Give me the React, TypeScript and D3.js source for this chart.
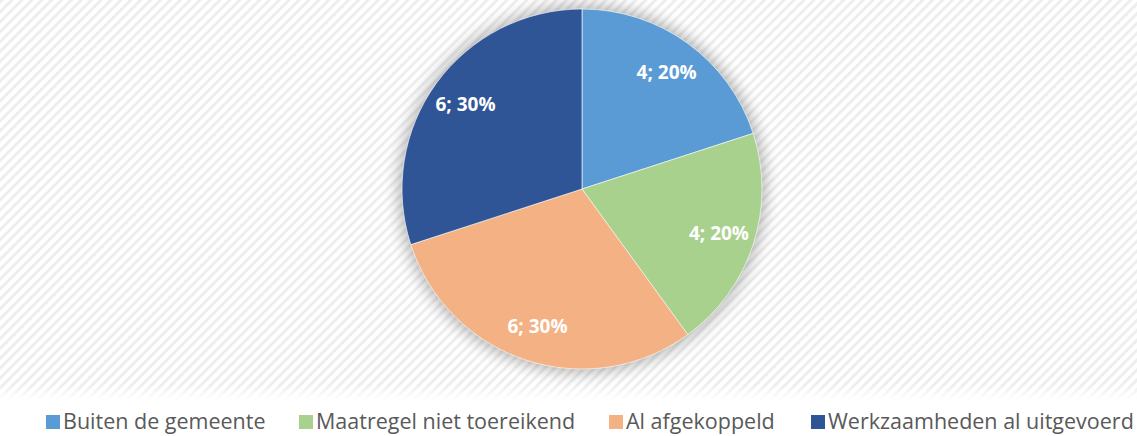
import React, { useEffect, useRef } from 'react';
import * as d3 from 'd3';

const categories = ['Buiten de gemeente', 'Maatregel niet toereikend', 'Al afgekoppeld', 'Werkzaamheden al uitgevoerd'];
const values = [4, 4, 6, 6];
const colors = ['#5B9BD5', '#A9D18E', '#F4B183', '#2F5597'];
const legendX = [46, 299, 609, 811];

export default function App() {
  const ref = useRef<SVGSVGElement>(null);

  useEffect(() => {
    const svg = d3.select(ref.current);
    svg.selectAll('*').remove();
    const width = 1137;
    const height = 436;
    const cx = 582;
    const cy = 189;
    const r = 180;

    const defs = svg.append('defs');
    const pat = defs
      .append('pattern')
      .attr('id', 'stripes')
      .attr('width', 7)
      .attr('height', 7)
      .attr('patternUnits', 'userSpaceOnUse')
      .attr('patternTransform', 'rotate(45)');
    pat.append('rect').attr('width', 7).attr('height', 7).attr('fill', '#ffffff');
    pat.append('rect').attr('width', 3).attr('height', 7).attr('fill', '#eeeeee');

    const fade = defs.append('linearGradient').attr('id', 'fade').attr('x1', 0).attr('y1', 0).attr('x2', 0).attr('y2', 1);
    fade.append('stop').attr('offset', '0%').attr('stop-color', '#fff').attr('stop-opacity', 0);
    fade.append('stop').attr('offset', '100%').attr('stop-color', '#fff').attr('stop-opacity', 1);

    const blur = defs.append('filter').attr('id', 'glow').attr('x', '-30%').attr('y', '-30%').attr('width', '160%').attr('height', '160%');
    blur.append('feGaussianBlur').attr('stdDeviation', 8);

    svg.append('rect').attr('width', width).attr('height', height).attr('fill', 'url(#stripes)');
    svg.append('rect').attr('y', 385).attr('width', width).attr('height', 15).attr('fill', 'url(#fade)');
    svg.append('rect').attr('y', 400).attr('width', width).attr('height', 36).attr('fill', '#fff');

    const g = svg.append('g').attr('transform', `translate(${cx},${cy})`);

    g.append('circle').attr('r', r + 3).attr('fill', '#000').attr('opacity', 0.3).attr('filter', 'url(#glow)');

    const pie = d3.pie<number>().sort(null).value((d) => d);
    const arcs = pie(values);
    const total = d3.sum(values);
    const arc = d3.arc<d3.PieArcDatum<number>>().innerRadius(0).outerRadius(r);
    const labelArc = d3.arc<d3.PieArcDatum<number>>().innerRadius(r * 0.8).outerRadius(r * 0.8);

    g.selectAll('path.slice')
      .data(arcs)
      .enter()
      .append('path')
      .attr('class', 'slice')
      .attr('d', arc)
      .attr('fill', (d, i) => colors[i])
      .attr('stroke', '#ffffff')
      .attr('stroke-opacity', 0.6)
      .attr('stroke-width', 1);

    g.selectAll('text.lbl')
      .data(arcs)
      .enter()
      .append('text')
      .attr('class', 'lbl')
      .attr('transform', (d) => `translate(${labelArc.centroid(d)})`)
      .attr('text-anchor', 'middle')
      .attr('dy', '0.35em')
      .attr('fill', '#fff')
      .attr('font-family', 'Open Sans, sans-serif')
      .attr('font-weight', 'bold')
      .attr('font-size', 19)
      .text((d) => `${d.data}; ${Math.round((d.data / total) * 100)}%`);

    const legend = svg
      .selectAll('g.leg')
      .data(categories)
      .enter()
      .append('g')
      .attr('class', 'leg')
      .attr('transform', (d, i) => `translate(${legendX[i]},415)`);
    legend.append('rect').attr('width', 14).attr('height', 14).attr('fill', (d, i) => colors[i]);
    legend
      .append('text')
      .attr('x', 17)
      .attr('y', 14)
      .attr('fill', '#595959')
      .attr('font-family', 'Open Sans, sans-serif')
      .attr('font-size', 21.5)
      .text((d) => d);
  }, []);

  return (
    <svg
      ref={ref}
      width={1137}
      height={436}
      style={{ position: 'absolute', left: 0, top: 0, display: 'block' }}
    />
  );
}
